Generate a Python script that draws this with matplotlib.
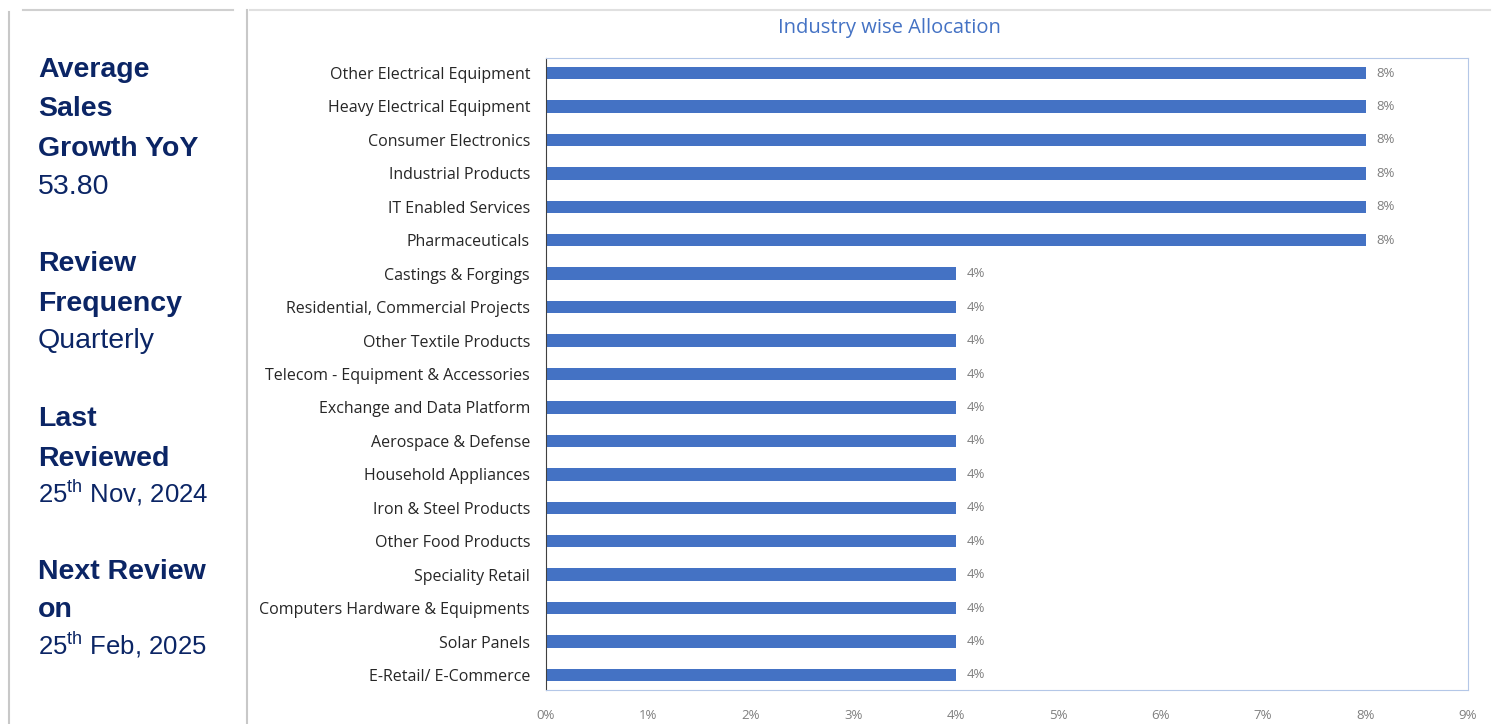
import matplotlib.pyplot as plt
from matplotlib.lines import Line2D

industries = [
    "Other Electrical Equipment", "Heavy Electrical Equipment", "Consumer Electronics",
    "Industrial Products", "IT Enabled Services", "Pharmaceuticals",
    "Castings & Forgings", "Residential, Commercial Projects", "Other Textile Products",
    "Telecom - Equipment & Accessories", "Exchange and Data Platform",
    "Aerospace & Defense", "Household Appliances", "Iron & Steel Products",
    "Other Food Products", "Speciality Retail", "Computers Hardware & Equipments",
    "Solar Panels", "E-Retail/ E-Commerce",
]
allocation = [8, 8, 8, 8, 8, 8, 4, 4, 4, 4, 4, 4, 4, 4, 4, 4, 4, 4, 4]
x_ticks = [0, 1, 2, 3, 4, 5, 6, 7, 8, 9]

navy = "#0b2565"
bar_blue = "#4472c4"
W, H = 1494, 724

fig = plt.figure(figsize=(W / 100, H / 100), dpi=100)

# left info panel frame
def px_line(x0, y0, x1, y1, color="#c8c8c8", lw=1.5):
    fig.add_artist(Line2D([x0 / W, x1 / W], [1 - y0 / H, 1 - y1 / H],
                          transform=fig.transFigure, color=color, lw=lw))

px_line(9, 12, 9, H)
px_line(247, 10, 247, H)
px_line(23, 10, 233, 10, color="#d0d0d0")
px_line(250, 10, 1490, 10, color="#e0e0e0")

def panel_text(y, s, bold=False, size=20.5):
    fig.text(38 / W, 1 - y / H, s, fontsize=size, color=navy,
             fontweight="bold" if bold else "normal",
             family="Liberation Sans", va="baseline", ha="left")

# heading lines (baseline y in pixels)
panel_text(77, "Average", True)
panel_text(116, "Sales", True)
panel_text(156, "Growth YoY", True)
panel_text(194, "53.80")
panel_text(271, "Review", True)
panel_text(311, "Frequency", True)
panel_text(348, "Quarterly")
panel_text(426, "Last", True)
panel_text(466, "Reviewed", True)
panel_text(503, r"25$^{\mathregular{th}}$ Nov, 2024", size=18.5)
panel_text(579, "Next Review", True)
panel_text(617, "on", True)
panel_text(655, r"25$^{\mathregular{th}}$ Feb, 2025", size=18.5)

# bar chart
ax = fig.add_axes([546 / W, 1 - 690 / H, (1468 - 546) / W, (690 - 58) / H])
pos = list(range(len(industries)))
ax.barh(pos, allocation, height=0.37, color=bar_blue)
for p, v in zip(pos, allocation):
    ax.text(v + 0.11, p, f"{v}%", va="center", ha="left", fontsize=9.5,
            color="#7f7f7f", family="Open Sans")
ax.set_xlim(0, 9)
ax.set_ylim(len(industries) - 0.55, -0.45)
ax.set_yticks(pos)
ax.set_yticklabels(industries, fontsize=11.5, family="Open Sans", color="#262626")
ax.set_xticks(x_ticks)
ax.set_xticklabels([f"{t}%" for t in x_ticks], fontsize=9.5, family="Open Sans", color="#7f7f7f")
ax.tick_params(axis="y", length=0, pad=11.5)
ax.tick_params(axis="x", length=0, pad=13.5)
ax.spines["left"].set_color("#404040")
for s in ["top", "right", "bottom"]:
    ax.spines[s].set_color("#b4c7e7")
ax.set_title("Industry wise Allocation", fontsize=14.5, color="#4472c4",
             family="Open Sans", pad=18, x=0.372)

fig.savefig("out.png", dpi=100)
